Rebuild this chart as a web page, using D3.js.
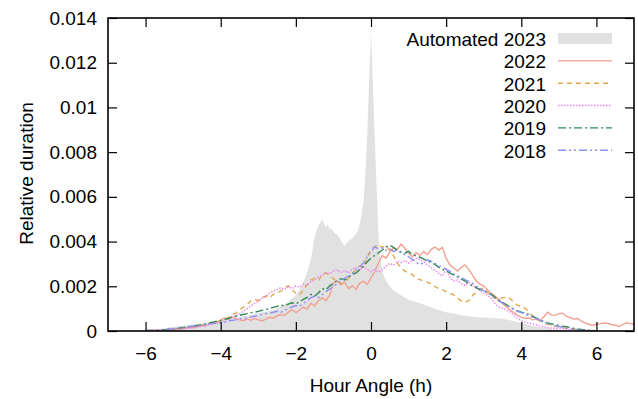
<!DOCTYPE html>
<html><head><meta charset="utf-8">
<script src="https://cdn.jsdelivr.net/npm/d3@7"></script>
<style>body{margin:0;background:#fff}svg{display:block;font-family:"Liberation Sans",Arial,sans-serif}</style>
</head><body><svg id="c" width="638" height="399"></svg>
<script>
// Values in units of 1e-4 (relative duration)
const xTicks = [-6, -4, -2, 0, 2, 4, 6];
const yTicks = [0, 20, 40, 60, 80, 100, 120, 140];
const yTickLabels = ["0", "0.002", "0.004", "0.006", "0.008", "0.01", "0.012", "0.014"];
const legendLabels = ["Automated 2023", "2022", "2021", "2020", "2019", "2018"];

const grayHour = [-6.0,-5.8,-5.6,-5.4,-5.2,-5.0,-4.8,-4.6,-4.4,-4.2,-4.0,-3.8,-3.6,-3.4,-3.2,-3.0,-2.8,-2.6,-2.4,-2.2,-2.1,-2.0,-1.9,-1.8,-1.7,-1.6,-1.55,-1.5,-1.45,-1.4,-1.35,-1.3,-1.25,-1.2,-1.15,-1.1,-1.05,-1.0,-0.95,-0.9,-0.85,-0.8,-0.75,-0.7,-0.65,-0.6,-0.55,-0.5,-0.45,-0.4,-0.35,-0.3,-0.25,-0.2,-0.15,-0.1,-0.05,0.0,0.05,0.1,0.15,0.2,0.25,0.3,0.35,0.4,0.5,0.6,0.7,0.8,0.9,1.0,1.1,1.2,1.3,1.4,1.5,1.6,1.7,1.8,1.9,2.0,2.2,2.4,2.6,2.8,3.0,3.2,3.4,3.6,3.8,4.0,4.2,4.4,4.6,4.8,5.0,5.2,5.4];
const grayValue = [0,0.4,0.8,1.6,2.0,2.4,2.8,3.2,3.6,4.2,4.6,5.2,5.8,6.6,7.2,8.0,8.6,9.4,11.0,13.0,14.6,16.0,18.4,22.0,26.0,32.0,37.0,42.0,45.0,47.0,48.5,50.0,48.0,46.5,47.5,45.5,46.0,44.5,43.5,43.0,42.0,40.5,39.0,38.0,39.5,40.0,41.0,41.5,42.5,43.5,45.0,48.0,52.0,58.0,70.0,88.0,112.0,134.0,110.0,86.0,64.0,42.0,32.0,27.0,24.5,22.5,20.0,18.0,17.0,16.0,15.0,14.0,13.4,13.0,12.4,11.8,11.2,10.6,10.0,9.4,8.8,8.4,7.8,7.0,6.6,6.2,6.0,5.8,5.6,5.2,4.4,3.6,2.8,2.0,1.4,1.0,0.6,0.3,0];

// line series sampled every 0.1 h starting at -6.0
const y2022 = [0.1,0.2,0.2,0.3,0.4,0.5,0.7,0.6,0.9,1.1,1.0,1.4,1.7,1.5,2.1,2.5,2.3,3.2,4.0,3.6,5.0,5.8,5.2,6.3,5.6,5.0,4.6,5.4,4.8,5.6,5.0,4.5,5.3,6.1,5.7,6.8,7.5,6.9,8.4,9.6,8.2,9.4,10.6,9.8,12.4,11.2,13.5,14.8,13.6,16.0,21.5,22.4,20.6,21.8,18.9,20.2,18.6,21.4,22.2,20.8,23.8,26.5,30.4,33.8,32.6,35.4,37.2,36.4,38.9,37.0,34.6,33.2,35.0,33.8,35.6,34.2,36.4,37.6,36.2,37.4,32.5,29.6,28.2,26.8,28.4,29.6,27.6,25.0,22.4,21.0,20.2,18.4,16.8,15.6,14.0,12.2,11.0,9.4,8.2,7.0,6.2,5.6,5.9,5.0,5.3,4.8,6.4,8.4,7.2,7.0,7.8,8.0,6.6,6.0,5.4,5.6,4.4,3.6,3.0,2.6,3.0,3.2,3.6,3.4,2.9,2.6,2.0,2.8,3.7,3.3,3.0];
const y2021 = [0.1,0.2,0.2,0.3,0.4,0.5,0.6,0.8,0.9,1.1,1.3,1.5,1.7,2.0,2.2,2.6,2.9,3.3,3.6,4.1,4.6,5.4,6.0,7.2,8.0,9.4,10.6,11.8,13.4,14.2,13.6,15.0,15.6,14.8,16.4,17.2,17.8,19.4,20.2,18.6,16.8,16.2,18.4,20.6,22.8,23.6,22.6,25.2,26.0,24.8,23.4,22.0,21.2,21.8,23.6,25.8,27.4,29.2,28.6,33.0,36.4,37.8,38.6,37.4,38.2,35.8,33.6,30.4,28.2,26.8,26.0,25.2,23.6,23.0,22.4,21.8,21.2,19.8,19.0,18.4,17.6,17.0,16.2,15.0,13.4,12.8,13.6,15.8,17.4,18.6,19.4,17.2,15.8,14.6,14.2,14.8,15.2,14.6,12.8,11.6,10.8,10.2,8.4,6.6,5.2,4.4,3.6,3.0,2.6,2.2,1.8,1.5,1.2,1.0,0.8,0.6,0.5,0.4,0.3,0.2,0.2];
const y2020 = [0.1,0.1,0.2,0.2,0.3,0.4,0.4,0.6,0.7,0.9,1.0,1.2,1.4,1.5,1.8,2.1,2.4,2.8,3.1,3.6,4.0,4.6,5.4,6.2,7.0,7.6,8.8,10.0,11.2,12.4,13.2,14.6,15.4,17.0,17.8,18.6,19.4,18.6,19.8,19.0,20.2,19.6,21.0,20.4,22.0,22.8,24.2,25.0,26.2,25.6,26.8,27.4,26.2,27.0,26.0,27.6,28.4,27.2,28.8,27.6,26.4,27.8,26.2,27.4,29.0,30.2,29.4,31.2,30.6,31.6,30.4,31.8,32.6,32.0,30.8,29.6,28.4,27.0,25.8,24.6,27.6,24.0,22.4,22.8,21.2,20.4,21.6,20.8,19.0,18.2,16.8,16.0,14.6,12.4,10.8,10.2,9.4,8.6,7.0,5.6,4.6,4.0,3.6,3.2,2.8,2.2,1.8,1.5,1.3,1.2,1.0,0.9,0.8,0.6,0.5,0.4,0.3,0.3,0.2,0.1,0.1];
const y2019 = [0.1,0.2,0.2,0.3,0.4,0.5,0.6,0.8,1.0,1.3,1.6,1.8,2.1,2.2,2.6,2.8,3.2,3.6,4.0,4.4,4.6,5.2,5.6,6.2,6.6,7.0,7.4,7.8,8.2,8.4,8.8,9.2,9.6,10.0,10.6,11.0,11.6,11.2,12.0,12.6,12.2,13.0,14.2,15.0,16.4,15.6,17.0,19.0,18.4,20.2,21.4,22.6,23.4,22.8,24.0,25.2,26.0,27.4,29.0,31.0,32.6,33.8,35.0,36.2,37.6,38.4,37.4,36.2,35.4,34.8,35.6,34.2,33.6,33.0,32.2,31.4,30.6,29.8,28.6,27.6,26.8,26.0,25.0,24.2,23.2,22.4,21.0,20.2,19.4,18.6,18.0,17.2,16.4,15.2,14.0,12.8,11.8,10.8,9.8,9.0,8.4,8.0,7.4,6.6,5.8,5.0,4.2,3.6,3.2,2.8,2.6,2.2,1.9,1.6,1.2,0.9,0.7,0.5,0.3,0.2,0.1];
const y2018 = [0.2,0.3,0.3,0.5,0.6,0.7,0.9,1.0,1.2,1.4,1.5,1.7,2.0,2.2,2.3,2.6,2.9,3.2,3.4,3.6,3.8,4.0,4.4,4.8,5.0,5.4,5.6,5.8,6.2,6.6,7.0,7.4,7.8,8.0,8.4,8.8,8.4,9.2,10.2,10.8,11.4,11.0,12.4,13.6,14.8,15.6,15.0,16.2,17.6,18.8,20.0,21.2,22.4,23.6,24.6,25.6,27.4,28.6,30.6,33.2,35.4,37.6,36.8,37.2,36.0,36.8,35.6,36.2,35.0,34.0,33.2,32.0,30.8,29.6,30.6,31.8,31.2,30.2,29.4,28.6,27.6,26.8,25.6,24.8,24.0,23.0,22.2,21.4,20.2,19.0,18.0,17.0,16.0,14.6,13.4,12.6,11.6,10.6,9.6,8.8,8.2,7.6,6.8,6.2,5.6,4.8,4.0,3.4,2.8,2.4,2.0,1.6,1.3,1.0,0.7,0.5,0.4,0.3,0.2,0.1,0.1];

const seriesDefs = [
  {label: "2022", values: y2022, color: "#f2a090", dash: null},
  {label: "2021", values: y2021, color: "#e3a84c", dash: "5,4"},
  {label: "2020", values: y2020, color: "#ee82ee", dash: "1.5,1.5"},
  {label: "2019", values: y2019, color: "#2e8b57", dash: "8,3,2,3"},
  {label: "2018", values: y2018, color: "#8f8ff5", dash: "8,3,2,3,2,3"}
];

const svg = d3.select("#c");
const L = 108, R = 634, T = 18, B = 331;
const x = d3.scaleLinear().domain([-7, 7]).range([L, R]);
const y = d3.scaleLinear().domain([0, 140]).range([B, T]);

svg.append("clipPath").attr("id", "pc").append("rect")
  .attr("x", L).attr("y", T).attr("width", R - L).attr("height", B - T);
const plot = svg.append("g").attr("clip-path", "url(#pc)");

// gray histogram
const grayPts = grayHour.map((h, i) => [h, grayValue[i]]);
plot.append("path").datum(grayPts)
  .attr("fill", "#e1e1e1")
  .attr("d", d3.area().x(d => x(d[0])).y0(y(0)).y1(d => y(d[1])));

// lines
seriesDefs.forEach(s => {
  const pts = s.values.map((v, i) => [-6 + i * 0.1, v]);
  plot.append("path").datum(pts)
    .attr("fill", "none").attr("stroke", s.color).attr("stroke-width", 1.4)
    .attr("stroke-dasharray", s.dash)
    .attr("d", d3.line().x(d => x(d[0])).y(d => y(d[1])));
});

// axes with inward ticks, mirrored
const fs = 19;
const axB = svg.append("g").attr("transform", `translate(0,${B})`)
  .call(d3.axisBottom(x).tickValues(xTicks).tickSizeInner(-9).tickSizeOuter(0).tickPadding(16).tickFormat(d3.format("d")));
const axT = svg.append("g").attr("transform", `translate(0,${T})`)
  .call(d3.axisTop(x).tickValues(xTicks).tickSizeInner(-9).tickSizeOuter(0).tickFormat(""));
const axL = svg.append("g").attr("transform", `translate(${L},0)`)
  .call(d3.axisLeft(y).tickValues(yTicks).tickSizeInner(-9).tickSizeOuter(0).tickPadding(11).tickFormat((d, i) => yTickLabels[i]));
const axR = svg.append("g").attr("transform", `translate(${R},0)`)
  .call(d3.axisRight(y).tickValues(yTicks).tickSizeInner(-9).tickSizeOuter(0).tickFormat(""));
[axB, axT, axL, axR].forEach(a => {
  a.select(".domain").remove();
  a.selectAll(".tick line").attr("stroke", "#000").attr("stroke-width", 1.2);
  a.selectAll("text").attr("font-size", fs).attr("font-family", "Liberation Sans, Arial, sans-serif").attr("fill", "#000");
});

svg.append("rect").attr("x", L).attr("y", T).attr("width", R - L).attr("height", B - T)
  .attr("fill", "none").attr("stroke", "#000").attr("stroke-width", 1.6);

svg.append("text").attr("x", (L + R) / 2).attr("y", 392).attr("text-anchor", "middle")
  .attr("font-size", fs).text("Hour Angle (h)");
svg.append("text").attr("transform", `translate(26,${(T + B) / 2 - 1}) rotate(-90)`)
  .attr("text-anchor", "middle").attr("dominant-baseline", "central")
  .attr("font-size", fs).text("Relative duration");

// legend
const lg = svg.append("g");
const rowY = i => 38.5 + i * 22.35;
legendLabels.forEach((lab, i) => {
  lg.append("text").attr("x", 546).attr("y", rowY(i) + 1).attr("text-anchor", "end")
    .attr("dominant-baseline", "central").attr("font-size", fs).text(lab);
});
lg.append("rect").attr("x", 558).attr("y", rowY(0) - 5.5).attr("width", 54).attr("height", 11).attr("fill", "#e1e1e1");
seriesDefs.forEach((s, i) => {
  lg.append("line").attr("x1", 558).attr("x2", 612).attr("y1", rowY(i + 1)).attr("y2", rowY(i + 1))
    .attr("stroke", s.color).attr("stroke-width", 1.4).attr("stroke-dasharray", s.dash);
});
</script></body></html>
